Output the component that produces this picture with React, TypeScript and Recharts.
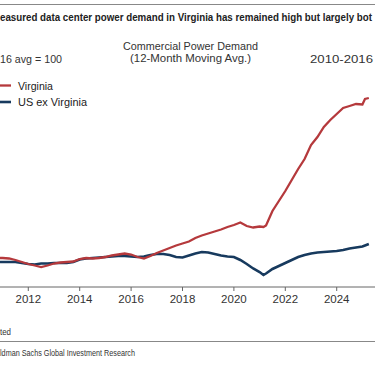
import { LineChart, Line, XAxis, YAxis } from 'recharts';

// index, 2010-2016 avg = 100
const dates = [
  2010.9,
  2011, 2011.25, 2011.5, 2011.75,
  2012, 2012.25, 2012.5, 2012.75,
  2013, 2013.25, 2013.5, 2013.75,
  2014, 2014.25, 2014.5, 2014.75,
  2015, 2015.25, 2015.5, 2015.75,
  2016, 2016.25, 2016.5, 2016.75,
  2017, 2017.25, 2017.5, 2017.75,
  2018, 2018.25, 2018.5, 2018.75,
  2019, 2019.25, 2019.5, 2019.75,
  2020, 2020.25, 2020.5, 2020.75,
  2021, 2021.15, 2021.25, 2021.5, 2021.75,
  2022, 2022.25, 2022.5, 2022.75,
  2023, 2023.25, 2023.5, 2023.75,
  2024, 2024.25, 2024.5, 2024.75,
  2025, 2025.1, 2025.25
];

const virginia = [
  101,
  101, 100.75, 100, 99,
  98, 97.25, 96.5, 97.25,
  98.25, 98.75, 99, 99.25,
  100.5, 101, 100.75, 101,
  101.5, 102.25, 102.75, 103.25,
  102.75, 101.5, 100.75, 102,
  103.5, 104.75, 106, 107.25,
  108.25, 109.25, 111, 112.25,
  113.25, 114.25, 115.25, 116.5,
  117.5, 118.75, 117, 116.25,
  116.75, 116.5, 117.25, 124.5, 129.5,
  134.5, 140, 145.5, 150.5,
  157.5, 161.5, 166.5, 170,
  173, 176, 177, 178,
  177.75, 180.5, 181
];

const usExVirginia = [
  99,
  99, 99, 99, 98.5,
  98, 97.75, 98.25, 98.25,
  98.5, 98.5, 98.5, 99,
  100.25, 100.75, 101, 101.25,
  101.5, 101.75, 102, 102,
  101.75, 101.5, 101.75, 102.5,
  103, 103, 102.5, 101.5,
  101.25, 102.25, 103.25, 104,
  103.75, 103, 102.25, 101.75,
  101.5, 100, 98, 95.75,
  94, 92.5, 93.25, 95.5, 97,
  98.5, 100, 101.5, 102.5,
  103.25, 103.75, 104, 104.25,
  104.5, 105, 105.75, 106.25,
  106.75, 107.25, 108
];

const yearTicks = [2012, 2014, 2016, 2018, 2020, 2022, 2024];

const RED = '#b5393c';
const NAVY = '#173a5e';
const FONT = '"Liberation Sans", Arial, sans-serif';
const NARROW = '"Liberation Sans Narrow", "Liberation Sans", Arial, sans-serif';

const chartData = dates.map((date, i) => ({
  date,
  virginia: virginia[i],
  usExVirginia: usExVirginia[i]
}));

export default function App () {
  return (
    <div style={{ position: 'absolute', left: 0, top: 0, width: 375, height: 366, background: '#fff' }}>
      <LineChart
        width={375}
        height={366}
        data={chartData}
        margin={{ top: 70, right: 0, bottom: 49, left: 0 }}
      >
        <XAxis
          dataKey="date"
          type="number"
          domain={[2010.899, 2025.49]}
          allowDataOverflow
          ticks={yearTicks}
          height={30}
          tickSize={4}
          tickMargin={4}
          axisLine={{ stroke: '#666' }}
          tickLine={{ stroke: '#666' }}
          tick={{ fill: '#333', fontSize: 11.5, fontFamily: FONT }}
        />
        <YAxis hide domain={[86.5, 195]} allowDataOverflow />
        <Line
          dataKey="usExVirginia"
          stroke={NAVY}
          strokeWidth={2.6}
          dot={false}
          isAnimationActive={false}
        />
        <Line
          dataKey="virginia"
          stroke={RED}
          strokeWidth={2.3}
          dot={false}
          isAnimationActive={false}
        />
      </LineChart>
      <svg
        width={375}
        height={366}
        style={{ position: 'absolute', left: 0, top: 0, pointerEvents: 'none' }}
      >
        <line x1={0} x2={375} y1={4.5} y2={4.5} stroke="#888" strokeWidth={1} />
        <text
          x={0}
          y={21}
          fontFamily={NARROW}
          fontWeight="bold"
          fontSize={11.5}
          fill="#222"
          textLength={372}
          lengthAdjust="spacingAndGlyphs"
        >
          easured data center power demand in Virginia has remained high but largely bot
        </text>
        <g fontFamily={FONT} fontSize={11.5} fill="#333">
          <text x={123} y={50} textLength={135} lengthAdjust="spacingAndGlyphs">
            Commercial Power Demand
          </text>
          <text x={130} y={62} textLength={121} lengthAdjust="spacingAndGlyphs">
            (12-Month Moving Avg.)
          </text>
          <text x={0} y={63} textLength={62} lengthAdjust="spacingAndGlyphs">
            16 avg = 100
          </text>
          <text x={310} y={63} textLength={63} lengthAdjust="spacingAndGlyphs">
            2010-2016
          </text>
        </g>
        <g fontFamily={FONT} fontSize={11.5} fill="#222">
          <line x1={0} x2={11} y1={85.5} y2={85.5} stroke={RED} strokeWidth={2.3} />
          <text x={18} y={89.5} textLength={35} lengthAdjust="spacingAndGlyphs">Virginia</text>
          <line x1={0} x2={11} y1={102} y2={102} stroke={NAVY} strokeWidth={2.6} />
          <text x={18} y={106} textLength={69} lengthAdjust="spacingAndGlyphs">US ex Virginia</text>
        </g>
        <text x={0} y={334.5} fontFamily={NARROW} fontSize={9.5} fill="#333" textLength={11} lengthAdjust="spacingAndGlyphs">
          ted
        </text>
        <line x1={0} x2={375} y1={341.5} y2={341.5} stroke="#888" strokeWidth={1} />
        <text x={0} y={356} fontFamily={NARROW} fontSize={9.5} fill="#333" textLength={135} lengthAdjust="spacingAndGlyphs">
          ldman Sachs Global Investment Research
        </text>
      </svg>
    </div>
  );
}
